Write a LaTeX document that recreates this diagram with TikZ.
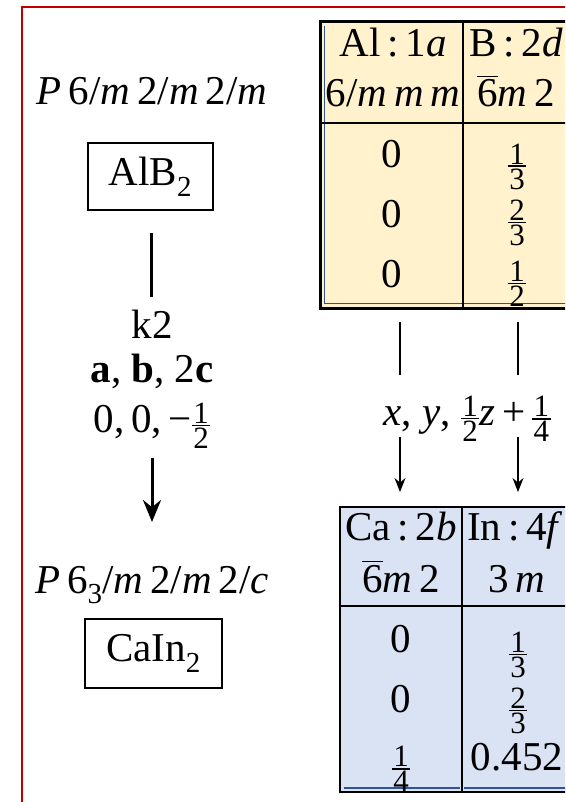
\documentclass[tikz,border=0pt]{standalone}
\usepackage{amsmath}
\usepackage{fontspec}
\setmainfont{Liberation Serif}
\usetikzlibrary{arrows.meta}
\definecolor{frameRed}{HTML}{C00000}
\definecolor{creamFill}{HTML}{FFF2CC}
\definecolor{blueFill}{HTML}{DAE3F3}
\definecolor{innerBlue}{HTML}{2F5597}
\newcommand\frsize{\fontsize{31}{31}\selectfont}
\newcommand\subsize{\fontsize{29}{29}\selectfont}
\newcommand\fr[2]{\ensuremath{\vcenter{\offinterlineskip\halign{\hfil\kern1.5pt##\kern1.5pt\hfil\cr\frsize #1\cr\noalign{\kern0.8pt\hrule height 1.8pt\kern1.2pt}\frsize #2\cr}}}}
\newcommand\sixbar{$\overline{\hbox{6}}$}
\newcommand\mi[1]{\textit{#1}}
\begin{document}
\begin{tikzpicture}[x=1pt,y=-1pt,
  every node/.style={font=\fontsize{41}{49}\selectfont, inner sep=0pt},
  lbl/.style={anchor=base},
  formula/.style={draw, line width=2.5pt, minimum width=125pt, minimum height=67pt},
  bigarrow/.style={line width=3pt, -{Stealth[length=22pt,width=18pt]}},
  bigline/.style={line width=3pt},
  thinline/.style={line width=1.2pt},
  thinarrow/.style={line width=1.2pt, -{Stealth[length=14pt,width=11pt]}},
]
\useasboundingbox (0,0) rectangle (565,802);
\clip (0,0) rectangle (565,802);
% red frame
\draw[frameRed, line width=2pt] (22,900) -- (22,7) -- (600,7);

% left column
\node[lbl] (sg1) at (152,105) {\mi{P}\,6/\mi{m}\,2/\mi{m}\,2/\mi{m}};
\node[formula] (alb) at (150.5,176.5) {AlB$_{\hbox{\subsize 2}}$};
\node[lbl] (k2) at (152,338) {k2};
\node[lbl] (abc) at (152,382) {\textbf{a}, \textbf{b}, 2\textbf{c}};
\node[lbl] (shift) at (152,432) {0,\,0,\,−\fr{1}{2}};
\node[lbl] (sg2) at (152,593) {\mi{P}\,6$_{\hbox{\subsize 3}}$/\mi{m}\,2/\mi{m}\,2/\mi{c}};
\node[formula, minimum width=137pt, minimum height=69pt] (cain) at (153.5,653.5) {CaIn$_{\hbox{\subsize 2}}$};

\coordinate (l1a) at (151,233);
\coordinate (l1b) at (151,297);
\coordinate (l2a) at (152,458);
\coordinate (l2b) at (152,522);
\draw[bigline] (l1a) -- (l1b);
\draw[bigarrow] (l2a) -- (l2b);

% top table
\fill[creamFill] (320,22) rectangle (600,308);
\draw[innerBlue, line width=1pt] (324.5,26) -- (324.5,303.5) -- (600,303.5);
\draw[line width=1.5pt] (463,22) -- (463,308);
\draw[line width=2pt] (320,123) -- (600,123);
\draw[line width=3pt] (320,22) rectangle (600,308);

\node[lbl] (h1a) at (393,57) {Al\,:\,1\mi{a}};
\node[lbl] (h1b) at (393,107) {6/\mi{m\,m\,m}};
\node[lbl] (h2a) at (516,57) {B\,:\,2\mi{d}};
\node[lbl] (h2b) at (516,107) {\sixbar\mi{m}\,2};
\node[lbl] (t11) at (392,168) {0};
\node[lbl] (t21) at (392,227) {0};
\node[lbl] (t31) at (392,287) {0};
\node[lbl] (t12) at (517,173) {\fr{1}{3}};
\node[lbl] (t22) at (517,229) {\fr{2}{3}};
\node[lbl] (t32) at (517,290) {\fr{1}{2}};

% transformation
\coordinate (m1t) at (400,322);
\coordinate (m1b) at (400,375);
\coordinate (m1c) at (400,437);
\coordinate (m1d) at (400,492);
\coordinate (m2t) at (518,322);
\coordinate (m2b) at (518,375);
\coordinate (m2c) at (518,437);
\coordinate (m2d) at (518,492);
\draw[thinline] (m1t) -- (m1b);
\draw[thinline] (m2t) -- (m2b);
\draw[thinarrow] (m1c) -- (m1d);
\draw[thinarrow] (m2c) -- (m2d);
\node[lbl] (tr) at (467,425) {\mi{x}, \mi{y}, \fr{1}{2}\mi{z}\,+\,\fr{1}{4}};

% bottom table
\fill[blueFill] (340,507) rectangle (600,792);
\draw[line width=1.5pt] (462,507) -- (462,792);
\draw[line width=2pt] (340,606) -- (600,606);
\draw[innerBlue, line width=1.2pt] (344,788) -- (460,788);
\draw[innerBlue, line width=1.2pt] (464,788) -- (600,788);
\draw[line width=2.5pt] (340,507) rectangle (600,792);

\node[lbl] (h3a) at (401,540) {Ca\,:\,2\mi{b}};
\node[lbl] (h3b) at (401,592) {\sixbar\mi{m}\,2};
\node[lbl] (h4a) at (515,540) {In\,:\,4\mi{f}};
\node[lbl] (h4b) at (517,592) {3\,\mi{m}};
\node[lbl] (b11) at (401,652) {0};
\node[lbl] (b21) at (401,712) {0};
\node[lbl] (b31) at (401,775) {\fr{1}{4}};
\node[lbl] (b12) at (518,661) {\fr{1}{3}};
\node[lbl] (b22) at (518,717) {\fr{2}{3}};
\node[lbl] (b32) at (517,770) {0.452};
\end{tikzpicture}
\end{document}
